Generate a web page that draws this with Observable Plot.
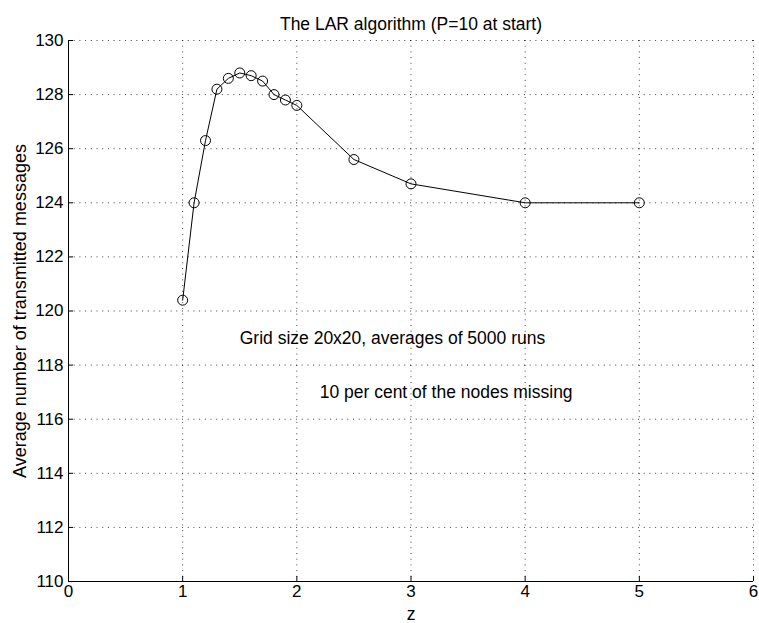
<!DOCTYPE html>
<html>
<head>
<meta charset="utf-8">
<script src="https://cdn.jsdelivr.net/npm/d3@7"></script>
<script src="https://cdn.jsdelivr.net/npm/@observablehq/plot@0.6"></script>
<style>
  html, body { margin: 0; padding: 0; background: #fff; }
</style>
</head>
<body>
<div id="chart"></div>
<script>
// Data
const zValues = [1, 1.1, 1.2, 1.3, 1.4, 1.5, 1.6, 1.7, 1.8, 1.9, 2, 2.5, 3, 4, 5];
const messages = [120.4, 124.0, 126.3, 128.2, 128.6, 128.8, 128.7, 128.5, 128.0, 127.8, 127.6, 125.6, 124.7, 124.0, 124.0];
const xTicks = [0, 1, 2, 3, 4, 5, 6];
const yTicks = [110, 112, 114, 116, 118, 120, 122, 124, 126, 128, 130];
const annotX = [1.5, 2.2];
const annotY = [119, 117];
const annotText = ["Grid size 20x20, averages of 5000 runs", "10 per cent of the nodes missing"];
const titleText = "The LAR algorithm (P=10 at start)";
const xLabel = "z";
const yLabel = "Average number of transmitted messages";

const data = zValues.map((z, i) => ({z, m: messages[i]}));
const annots = annotX.map((x, i) => ({x, y: annotY[i], t: annotText[i]}));

const font = "'Liberation Sans', Arial, Helvetica, sans-serif";
const dots = "1,4.7";

const chart = Plot.plot({
  width: 759,
  height: 623,
  marginTop: 40,
  marginBottom: 42,
  marginLeft: 68,
  marginRight: 6,
  style: {fontFamily: font, fontSize: "17px", background: "#fff", color: "#000"},
  x: {domain: [0, 6]},
  y: {domain: [110, 130]},
  marks: [
    Plot.gridX(xTicks, {stroke: "#000", strokeOpacity: 0.75, strokeDasharray: dots}),
    Plot.gridY(yTicks, {stroke: "#000", strokeOpacity: 0.75, strokeDasharray: dots}),
    Plot.axisX(xTicks, {tickSize: -5, tickPadding: 8, label: null, fontSize: 17, tickFormat: "d"}),
    Plot.axisY(yTicks, {tickSize: -5, tickPadding: 10, label: null, fontSize: 17, tickFormat: "d"}),
    Plot.ruleX([0], {stroke: "#000"}),
    Plot.ruleY([110], {stroke: "#000"}),
    Plot.line(data, {x: "z", y: "m", stroke: "#000", strokeWidth: 1}),
    Plot.dot(data, {x: "z", y: "m", r: 5, stroke: "#000", fill: "none", strokeWidth: 1}),
    Plot.text(annots, {x: "x", y: "y", text: "t", textAnchor: "start", fontSize: 17.5, fill: "#000"}),
    Plot.text([titleText], {frameAnchor: "top", dy: -23, fontSize: 17.5, fill: "#000"}),
    Plot.text([xLabel], {frameAnchor: "bottom", lineAnchor: "bottom", dy: 38, fontSize: 17.5, fill: "#000"}),
    Plot.text([yLabel], {frameAnchor: "left", textAnchor: "middle", dx: -48, rotate: -90, fontSize: 18, fill: "#000"})
  ]
});
document.getElementById("chart").appendChild(chart);
</script>
</body>
</html>
